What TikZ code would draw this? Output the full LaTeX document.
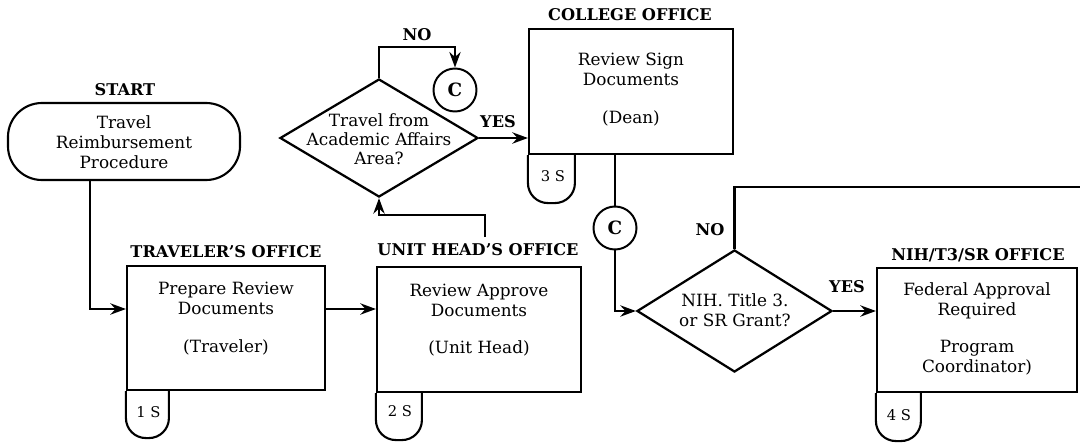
\documentclass[tikz,border=0pt]{standalone}
\usepackage{fontspec}
\setmainfont{DejaVu Serif}
\usetikzlibrary{shapes.geometric,arrows.meta}
\begin{document}
\begin{tikzpicture}[x=0.025cm,y=-0.025cm,
  box/.style={draw, rectangle, line width=1.5pt, inner sep=0pt},
  dia/.style={draw, diamond, inner sep=0pt, line width=1.6pt},
  conn/.style={draw, circle, line width=1.4pt, minimum size=1.075cm, inner sep=0pt, font=\bfseries\fontsize{13}{13}\selectfont},
  lbl/.style={font=\bfseries\fontsize{11.5}{13}\selectfont, inner sep=0pt},
  txt/.style={font=\fontsize{12}{14.2}\selectfont, align=center, inner sep=0pt},
  tabtxt/.style={font=\fontsize{10.5}{12}\selectfont, inner sep=0pt},
  arr/.style={line width=1.8pt, -{Stealth[length=11pt,width=8pt]}},
  ln/.style={line width=1.8pt},
  tabshape/.style={line width=1.5pt, rounded corners=0.5cm},
]
\useasboundingbox (0,0) rectangle (1080,442);

% START terminal
\node[draw, rounded corners=0.85cm, minimum width=5.8cm, minimum height=1.925cm, line width=1.5pt, inner sep=0pt] (start) at (124,141.5) {};
\node[lbl] (startL) at (125,90) {START};
\node[txt] (startT) at (124,142) {Travel\\Reimbursement\\Procedure};

% Traveler's office
\node[box, minimum width=4.95cm, minimum height=3.1cm] (trav) at (226,328) {};
\node[lbl] (travL) at (226,252) {TRAVELER'S OFFICE};
\node[txt] (travT) at (226,298.5) {Prepare Review\\Documents};
\node[txt] (travR) at (226,347) {(Traveler)};
\draw[tabshape] (trav.south west) -- ++(0,47) -- ++(43,0) -- ++(0,-47);
\node[tabtxt] (tab1) at (148.5,412) {1 S};

% Unit head's office
\node[box, minimum width=5.1cm, minimum height=3.125cm] (unit) at (479,329.5) {};
\node[lbl] (unitL) at (478,250) {UNIT HEAD'S OFFICE};
\node[txt] (unitT) at (479,300) {Review Approve\\Documents};
\node[txt] (unitR) at (479,348) {(Unit Head)};
\draw[tabshape] (unit.south west) -- ++(0,47) -- ++(46,0) -- ++(0,-47);
\node[tabtxt] (tab2) at (400,411) {2 S};

% College office
\node[box, minimum width=5.1cm, minimum height=3.125cm] (coll) at (631,91.5) {};
\node[lbl] (collL) at (630,15) {COLLEGE OFFICE};
\node[txt] (collT) at (631,69.5) {Review Sign\\Documents};
\node[txt] (collR) at (631,118) {(Dean)};
\draw[tabshape] (coll.south west) -- ++(0,48) -- ++(47,0) -- ++(0,-48);
\node[tabtxt] (tab3) at (553,176) {3 S};

% NIH office
\node[box, minimum width=5.0cm, minimum height=3.1cm] (nih) at (977,330) {};
\node[lbl] (nihL) at (978,255) {NIH/T3/SR OFFICE};
\node[txt] (nihT) at (977,300.5) {Federal Approval\\Required};
\node[txt] (nihR) at (977,357.5) {Program\\Coordinator)};
\draw[tabshape] (nih.south west) -- ++(0,48) -- ++(45,0) -- ++(0,-48);
\node[tabtxt] (tab4) at (899,415) {4 S};

% Decisions
\node[dia, minimum width=4.95cm, minimum height=2.95cm] (d1) at (379,138) {};
\node[txt, font=\fontsize{12}{13.5}\selectfont] (d1T) at (379,139) {Travel from\\Academic Affairs\\Area?};
\node[dia, minimum width=4.875cm, minimum height=3.05cm] (d2) at (734.5,311) {};
\node[txt] (d2T) at (735,310) {NIH. Title 3.\\or SR Grant?};

% Connectors (circles)
\node[conn] (c1) at (455,90) {C};
\node[conn] (c2) at (615,228) {C};

% Connector labels
\node[lbl] (no1) at (417,35) {NO};
\node[lbl] (yes1) at (498,122) {YES};
\node[lbl] (no2) at (710,230) {NO};
\node[lbl] (yes2) at (847,287) {YES};

% helper coordinates
\coordinate (x90) at (90,0);
\coordinate (ya) at (0,309);
\coordinate (u1) at (485,237);
\coordinate (y215) at (0,215);
\coordinate (y47) at (0,47);
\coordinate (rEdge) at (1080,187);

% Lines
\draw[arr] (start.south -| x90) |- (trav.west |- ya);
\draw[arr] (trav.east |- ya) -- (unit.west |- ya);
\draw[arr] (u1) -- (u1 |- y215) -| (d1.south);
\draw[arr] (d1.north) -- (d1.north |- y47) -| (c1.north);
\draw[arr] (d1.east) -- (d1.east -| coll.west);
\draw[ln] (coll.south -| c2) -- (c2.north);
\draw[arr] (c2.south) |- (d2.west);
\draw[ln] (d2.north) |- (rEdge);
\draw[arr] (d2.east) -- (d2.east -| nih.west);
\end{tikzpicture}
\end{document}
